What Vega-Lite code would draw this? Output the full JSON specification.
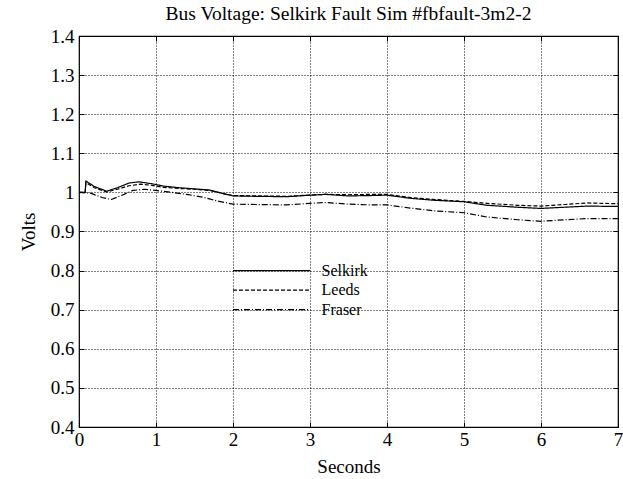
{
  "$schema": "https://vega.github.io/schema/vega-lite/v6.json",
  "width": 539,
  "height": 391,
  "autosize": "none",
  "padding": {"left": 79, "top": 36, "right": 5, "bottom": 52},
  "background": "white",
  "title": {"text": "Bus Voltage: Selkirk Fault Sim #fbfault-3m2-2", "font": "Liberation Serif", "fontSize": 19.5, "fontWeight": "normal", "color": "black", "offset": 3},
  "config": {
    "view": {"stroke": "black", "strokeWidth": 1.2},
    "axis": {"labelFont": "Liberation Serif", "titleFont": "Liberation Serif", "labelColor": "black", "titleColor": "black", "titleFontWeight": "normal", "labelFontSize": 19, "titleFontSize": 19, "grid": true, "gridColor": "black", "gridDash": [1, 2], "gridOpacity": 1, "gridWidth": 1, "domain": false, "ticks": true, "tickSize": -5, "tickColor": "black", "tickWidth": 1, "labelOverlap": false, "labelBound": false, "labelFlush": false}
  },
  "resolve": {"axis": {"x": "independent", "y": "independent"}},
  "datasets": {
    "curves": [
      {"series": "Selkirk", "t": 0, "v": 1.0}, {"series": "Selkirk", "t": 0.08, "v": 1.0}, {"series": "Selkirk", "t": 0.09, "v": 1.029}, {"series": "Selkirk", "t": 0.2, "v": 1.015}, {"series": "Selkirk", "t": 0.36, "v": 1.003}, {"series": "Selkirk", "t": 0.5, "v": 1.012}, {"series": "Selkirk", "t": 0.65, "v": 1.024}, {"series": "Selkirk", "t": 0.78, "v": 1.027}, {"series": "Selkirk", "t": 0.95, "v": 1.022}, {"series": "Selkirk", "t": 1.1, "v": 1.016}, {"series": "Selkirk", "t": 1.3, "v": 1.012}, {"series": "Selkirk", "t": 1.5, "v": 1.009}, {"series": "Selkirk", "t": 1.7, "v": 1.006}, {"series": "Selkirk", "t": 1.85, "v": 0.998}, {"series": "Selkirk", "t": 2.0, "v": 0.991}, {"series": "Selkirk", "t": 2.3, "v": 0.99}, {"series": "Selkirk", "t": 2.7, "v": 0.989}, {"series": "Selkirk", "t": 3.0, "v": 0.993}, {"series": "Selkirk", "t": 3.2, "v": 0.995}, {"series": "Selkirk", "t": 3.5, "v": 0.991}, {"series": "Selkirk", "t": 3.8, "v": 0.992}, {"series": "Selkirk", "t": 4.0, "v": 0.993}, {"series": "Selkirk", "t": 4.3, "v": 0.985}, {"series": "Selkirk", "t": 4.6, "v": 0.98}, {"series": "Selkirk", "t": 5.0, "v": 0.976}, {"series": "Selkirk", "t": 5.3, "v": 0.967}, {"series": "Selkirk", "t": 5.7, "v": 0.962}, {"series": "Selkirk", "t": 6.0, "v": 0.959}, {"series": "Selkirk", "t": 6.3, "v": 0.962}, {"series": "Selkirk", "t": 6.6, "v": 0.965}, {"series": "Selkirk", "t": 7.0, "v": 0.964},
      {"series": "Leeds", "t": 0, "v": 1.0}, {"series": "Leeds", "t": 0.08, "v": 1.0}, {"series": "Leeds", "t": 0.09, "v": 1.025}, {"series": "Leeds", "t": 0.2, "v": 1.012}, {"series": "Leeds", "t": 0.36, "v": 1.001}, {"series": "Leeds", "t": 0.5, "v": 1.008}, {"series": "Leeds", "t": 0.65, "v": 1.017}, {"series": "Leeds", "t": 0.8, "v": 1.021}, {"series": "Leeds", "t": 0.95, "v": 1.018}, {"series": "Leeds", "t": 1.1, "v": 1.013}, {"series": "Leeds", "t": 1.3, "v": 1.01}, {"series": "Leeds", "t": 1.5, "v": 1.008}, {"series": "Leeds", "t": 1.7, "v": 1.005}, {"series": "Leeds", "t": 1.85, "v": 0.998}, {"series": "Leeds", "t": 2.0, "v": 0.992}, {"series": "Leeds", "t": 2.3, "v": 0.991}, {"series": "Leeds", "t": 2.7, "v": 0.99}, {"series": "Leeds", "t": 3.0, "v": 0.993}, {"series": "Leeds", "t": 3.2, "v": 0.995}, {"series": "Leeds", "t": 3.5, "v": 0.994}, {"series": "Leeds", "t": 3.8, "v": 0.995}, {"series": "Leeds", "t": 4.0, "v": 0.995}, {"series": "Leeds", "t": 4.3, "v": 0.987}, {"series": "Leeds", "t": 4.6, "v": 0.982}, {"series": "Leeds", "t": 5.0, "v": 0.977}, {"series": "Leeds", "t": 5.3, "v": 0.972}, {"series": "Leeds", "t": 5.7, "v": 0.967}, {"series": "Leeds", "t": 6.0, "v": 0.965}, {"series": "Leeds", "t": 6.3, "v": 0.969}, {"series": "Leeds", "t": 6.6, "v": 0.973}, {"series": "Leeds", "t": 7.0, "v": 0.971},
      {"series": "Fraser", "t": 0, "v": 1.0}, {"series": "Fraser", "t": 0.15, "v": 0.998}, {"series": "Fraser", "t": 0.3, "v": 0.987}, {"series": "Fraser", "t": 0.42, "v": 0.982}, {"series": "Fraser", "t": 0.55, "v": 0.992}, {"series": "Fraser", "t": 0.7, "v": 1.005}, {"series": "Fraser", "t": 0.85, "v": 1.008}, {"series": "Fraser", "t": 1.0, "v": 1.005}, {"series": "Fraser", "t": 1.2, "v": 1.0}, {"series": "Fraser", "t": 1.4, "v": 0.995}, {"series": "Fraser", "t": 1.6, "v": 0.988}, {"series": "Fraser", "t": 1.8, "v": 0.978}, {"series": "Fraser", "t": 2.0, "v": 0.97}, {"series": "Fraser", "t": 2.3, "v": 0.969}, {"series": "Fraser", "t": 2.7, "v": 0.968}, {"series": "Fraser", "t": 3.0, "v": 0.972}, {"series": "Fraser", "t": 3.2, "v": 0.974}, {"series": "Fraser", "t": 3.5, "v": 0.97}, {"series": "Fraser", "t": 3.8, "v": 0.968}, {"series": "Fraser", "t": 4.0, "v": 0.968}, {"series": "Fraser", "t": 4.3, "v": 0.96}, {"series": "Fraser", "t": 4.6, "v": 0.953}, {"series": "Fraser", "t": 5.0, "v": 0.948}, {"series": "Fraser", "t": 5.3, "v": 0.937}, {"series": "Fraser", "t": 5.7, "v": 0.93}, {"series": "Fraser", "t": 6.0, "v": 0.926}, {"series": "Fraser", "t": 6.3, "v": 0.93}, {"series": "Fraser", "t": 6.6, "v": 0.933}, {"series": "Fraser", "t": 7.0, "v": 0.933}
    ],
    "key": [
      {"series": "Selkirk", "t": 2.0, "v": 0.8}, {"series": "Selkirk", "t": 3.0, "v": 0.8},
      {"series": "Leeds", "t": 2.0, "v": 0.75}, {"series": "Leeds", "t": 3.0, "v": 0.75},
      {"series": "Fraser", "t": 2.0, "v": 0.7}, {"series": "Fraser", "t": 3.0, "v": 0.7}
    ],
    "keylabels": [
      {"series": "Selkirk", "t": 3.15, "v": 0.8},
      {"series": "Leeds", "t": 3.15, "v": 0.75},
      {"series": "Fraser", "t": 3.15, "v": 0.7}
    ]
  },
  "layer": [
    {
      "data": {"name": "curves"},
      "mark": {"type": "line", "color": "black", "strokeWidth": 1.2},
      "encoding": {
        "x": {"field": "t", "type": "quantitative", "scale": {"domain": [0, 7], "nice": false}, "axis": {"title": "Seconds", "values": [0, 1, 2, 3, 4, 5, 6, 7], "format": "d", "labelPadding": 8, "titlePadding": 8}},
        "y": {"field": "v", "type": "quantitative", "scale": {"domain": [0.4, 1.4], "nice": false, "zero": false}, "axis": {"title": "Volts", "values": [0.4, 0.5, 0.6, 0.7, 0.8, 0.9, 1, 1.1, 1.2, 1.3, 1.4], "format": ".1~f", "labelPadding": 10, "titlePadding": 12}},
        "detail": {"field": "series"},
        "strokeDash": {"field": "series", "type": "nominal", "scale": {"domain": ["Selkirk", "Leeds", "Fraser"], "range": [[1, 0], [4, 2], [6, 2, 1, 2]]}, "legend": null}
      }
    },
    {
      "data": {"name": "key"},
      "mark": {"type": "line", "color": "black", "strokeWidth": 1.2},
      "encoding": {
        "x": {"field": "t", "type": "quantitative", "axis": null},
        "y": {"field": "v", "type": "quantitative", "axis": null},
        "detail": {"field": "series"},
        "strokeDash": {"field": "series", "type": "nominal", "legend": null}
      }
    },
    {
      "data": {"name": "keylabels"},
      "mark": {"type": "text", "font": "Liberation Serif", "fontSize": 16, "color": "black", "align": "left", "baseline": "middle"},
      "encoding": {
        "x": {"field": "t", "type": "quantitative", "axis": {"orient": "top", "title": null, "labels": false, "grid": false, "values": [0, 1, 2, 3, 4, 5, 6, 7]}},
        "y": {"field": "v", "type": "quantitative", "axis": {"orient": "right", "title": null, "labels": false, "grid": false, "values": [0.4, 0.5, 0.6, 0.7, 0.8, 0.9, 1, 1.1, 1.2, 1.3, 1.4]}},
        "text": {"field": "series"}
      }
    }
  ]
}
